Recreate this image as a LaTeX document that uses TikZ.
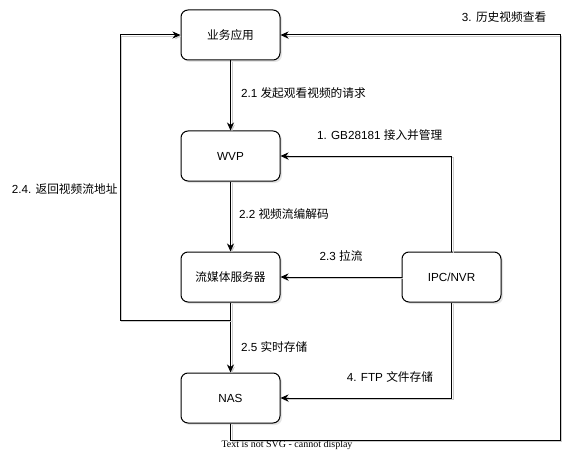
\documentclass[tikz,border=0pt]{standalone}
\usepackage{fontspec}
\setmainfont{Liberation Sans}
\newfontfamily\cjk{Noto Sans CJK SC}
\newfontfamily\svgfont{Liberation Serif}
\usetikzlibrary{positioning, calc, arrows.meta, shadows}

\begin{document}
\begin{tikzpicture}[
  x=1pt, y=1pt,
  every node/.style={font=\fontsize{11.7}{14}\selectfont}, % text size of the labels
  box/.style={
    draw, rounded corners=7pt, fill=white, line width=1pt,
    minimum width=99pt, minimum height=50pt,
    drop shadow={shadow xshift=2pt, shadow yshift=-2pt, fill=black!20},
  },
  link/.style={
    line width=1pt, -{Stealth[length=8pt, width=7pt, inset=2.5pt]},
    preaction={draw=black!20, transform canvas={shift={(1.5pt,-1.5pt)}}}, % grey shadow
  },
  lbl/.style={inner sep=0pt},
]
  \useasboundingbox (0,0) rectangle (571,-452);

  % boxes of the main column
  \node[box] (app) at (230.5,-35) {\cjk 业务应用};
  \node[box, below=70pt of app] (wvp) {WVP};
  \node[box, below=70pt of wvp] (sms) {\cjk 流媒体服务器};
  \node[box, below=70pt of sms] (nas) {NAS};
  %% camera side
  \node[box, right=121pt of sms] (ipc) {IPC/NVR};

  % corners of the two loops
  \coordinate (lft) at (120,-320);
  \coordinate (rgt) at (560,-440);

  % arrows down the column
  \draw[link] (app) -- node[lbl, pos=0.47, right=10pt] {2.1 {\cjk 发起观看视频的请求}} (wvp);
  \draw[link] (wvp) -- node[lbl, pos=0.47, right=8pt] {2.2 {\cjk 视频流编解码}} (sms);
  \draw[link] (sms) -- node[lbl, pos=0.63, right=10pt] {2.5 {\cjk 实时存储}} (nas);

  % arrows from the camera
  \draw[link] (ipc.north) |- node[lbl, pos=0.71, above=15pt] {1. GB28181 {\cjk 接入并管理}} (wvp.east);
  \draw[link] (ipc.west) -- node[lbl, above=15pt] {2.3 {\cjk 拉流}} (sms.east);
  \draw[link] (ipc.south) |- node[lbl, pos=0.68, above=15pt] {4. FTP {\cjk 文件存储}} (nas.east);

  % loops back to the application
  \draw[link] (sms.south) |- (lft) |- node[lbl, pos=0.23, left=2pt] {2.4. {\cjk 返回视频流地址}} (app.west);
  \draw[link] (nas.south) |- (rgt) |- node[lbl, pos=0.6, above=12pt] {3. {\cjk 历史视频查看}} (app.east);

  %% stray text of the export
  \node[font=\svgfont\fontsize{10}{12}\selectfont] (warn) at (287,-445) {Text is not SVG - cannot display};
\end{tikzpicture}
\end{document}
